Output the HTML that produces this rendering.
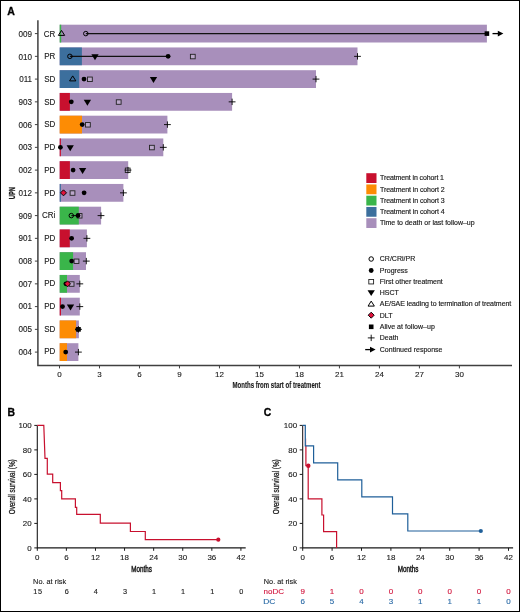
<!DOCTYPE html>
<html><head><meta charset="utf-8"><style>
html,body{margin:0;padding:0;background:#fff;}
svg{display:block;font-family:"Liberation Sans", sans-serif;will-change:transform;}
</style></head><body>
<svg width="520" height="612" viewBox="0 0 520 612">
<rect x="0.5" y="0.5" width="519" height="611" fill="#fff" stroke="#000" stroke-width="1"/>
<text x="7.3" y="14.5" font-size="10.5" fill="#000" font-weight="bold" stroke="#000" stroke-width="0.3">A</text>
<path d="M37.9 20.3V365.5H512" fill="none" stroke="#404040" stroke-width="1.5"/>
<text transform="translate(14.6,193.1) rotate(-90)" font-size="8.6" fill="#1a1a1a" text-anchor="middle" font-weight="bold" stroke="#1a1a1a" stroke-width="0.3" textLength="12.2" lengthAdjust="spacingAndGlyphs">UPN</text>
<rect x="59.7" y="24.7" width="427.2" height="17.8" fill="#a88fbb"/>
<rect x="59.7" y="24.7" width="1.5" height="17.8" fill="#3ab54a"/>
<path d="M34.9 33.6H38" stroke="#404040" stroke-width="1"/>
<text x="32.1" y="36.9" font-size="8.7" fill="#1a1a1a" text-anchor="end" stroke="#1a1a1a" stroke-width="0.12" textLength="13.5" lengthAdjust="spacingAndGlyphs">009</text>
<text x="55.4" y="36.75" font-size="8.8" fill="#1a1a1a" text-anchor="end" stroke="#1a1a1a" stroke-width="0.12" textLength="11.57" lengthAdjust="spacingAndGlyphs">CR</text>
<path d="M85.8 33.6H486.9" stroke="#111" stroke-width="1.1"/>
<path d="M61.5 30.4L64.65 35.4L58.35 35.4Z" fill="none" stroke="#000" stroke-width="1"/>
<circle cx="85.8" cy="33.6" r="2.25" fill="none" stroke="#000" stroke-width="1"/>
<rect x="484.6" y="31.3" width="4.6" height="4.6" fill="#000"/>
<path d="M492.5 33.6H499.4" stroke="#000" stroke-width="1.3"/>
<path d="M497.8 30.7L503.4 33.6L497.8 36.5Z" fill="#000"/>
<rect x="59.7" y="47.45" width="297.8" height="17.8" fill="#a88fbb"/>
<rect x="59.7" y="47.45" width="22.2" height="17.8" fill="#3c6f9d"/>
<path d="M34.9 56.35H38" stroke="#404040" stroke-width="1"/>
<text x="32.1" y="59.61" font-size="8.7" fill="#1a1a1a" text-anchor="end" stroke="#1a1a1a" stroke-width="0.12" textLength="13.5" lengthAdjust="spacingAndGlyphs">010</text>
<text x="55.4" y="59.43" font-size="8.8" fill="#1a1a1a" text-anchor="end" stroke="#1a1a1a" stroke-width="0.12" textLength="11.12" lengthAdjust="spacingAndGlyphs">PR</text>
<path d="M69.9 56.35H168.1" stroke="#111" stroke-width="1.1"/>
<circle cx="69.9" cy="56.35" r="2.25" fill="none" stroke="#000" stroke-width="1"/>
<path d="M91.35 54.35L98.65 54.35L95.0 60.25Z" fill="#000"/>
<circle cx="168.1" cy="56.35" r="2.4" fill="#000"/>
<rect x="190.4" y="54.3" width="4.8" height="4.5" fill="#fff" fill-opacity="0.22" stroke="#222" stroke-width="0.9"/>
<path d="M354.1 56.35H360.9M357.5 53.15V59.55" stroke="#000" stroke-width="0.9"/>
<rect x="59.7" y="70.2" width="256.3" height="17.8" fill="#a88fbb"/>
<rect x="59.7" y="70.2" width="19.5" height="17.8" fill="#3c6f9d"/>
<path d="M34.9 79.1H38" stroke="#404040" stroke-width="1"/>
<text x="32.1" y="82.32" font-size="8.7" fill="#1a1a1a" text-anchor="end" stroke="#1a1a1a" stroke-width="0.12" textLength="12.9" lengthAdjust="spacingAndGlyphs">011</text>
<text x="55.4" y="82.11" font-size="8.8" fill="#1a1a1a" text-anchor="end" stroke="#1a1a1a" stroke-width="0.12" textLength="11.12" lengthAdjust="spacingAndGlyphs">SD</text>
<path d="M72.7 75.9L75.85 80.9L69.55 80.9Z" fill="none" stroke="#000" stroke-width="1"/>
<circle cx="84.0" cy="79.1" r="2.4" fill="#000"/>
<rect x="87.5" y="77.05" width="4.8" height="4.5" fill="#fff" fill-opacity="0.22" stroke="#222" stroke-width="0.9"/>
<path d="M149.85 77.1L157.15 77.1L153.5 83.0Z" fill="#000"/>
<path d="M312.6 79.1H319.4M316.0 75.9V82.3" stroke="#000" stroke-width="0.9"/>
<rect x="59.7" y="92.95" width="172.4" height="17.8" fill="#a88fbb"/>
<rect x="59.7" y="92.95" width="10.2" height="17.8" fill="#c8102e"/>
<path d="M34.9 101.85H38" stroke="#404040" stroke-width="1"/>
<text x="32.1" y="105.03" font-size="8.7" fill="#1a1a1a" text-anchor="end" stroke="#1a1a1a" stroke-width="0.12" textLength="13.5" lengthAdjust="spacingAndGlyphs">903</text>
<text x="55.4" y="104.79" font-size="8.8" fill="#1a1a1a" text-anchor="end" stroke="#1a1a1a" stroke-width="0.12" textLength="11.12" lengthAdjust="spacingAndGlyphs">SD</text>
<circle cx="71.3" cy="101.85" r="2.4" fill="#000"/>
<path d="M83.75 99.85L91.05 99.85L87.4 105.75Z" fill="#000"/>
<rect x="116.3" y="99.8" width="4.8" height="4.5" fill="#fff" fill-opacity="0.22" stroke="#222" stroke-width="0.9"/>
<path d="M228.7 101.85H235.5M232.1 98.65V105.05" stroke="#000" stroke-width="0.9"/>
<rect x="59.7" y="115.7" width="107.7" height="17.8" fill="#a88fbb"/>
<rect x="59.7" y="115.7" width="22.3" height="17.8" fill="#fd8c04"/>
<path d="M34.9 124.6H38" stroke="#404040" stroke-width="1"/>
<text x="32.1" y="127.74" font-size="8.7" fill="#1a1a1a" text-anchor="end" stroke="#1a1a1a" stroke-width="0.12" textLength="13.5" lengthAdjust="spacingAndGlyphs">006</text>
<text x="55.4" y="127.47" font-size="8.8" fill="#1a1a1a" text-anchor="end" stroke="#1a1a1a" stroke-width="0.12" textLength="11.12" lengthAdjust="spacingAndGlyphs">SD</text>
<circle cx="82.2" cy="124.6" r="2.4" fill="#000"/>
<rect x="85.5" y="122.55" width="4.8" height="4.5" fill="#fff" fill-opacity="0.22" stroke="#222" stroke-width="0.9"/>
<path d="M164.0 124.6H170.8M167.4 121.4V127.8" stroke="#000" stroke-width="0.9"/>
<rect x="59.7" y="138.45" width="103.6" height="17.8" fill="#a88fbb"/>
<rect x="59.7" y="138.45" width="1.2" height="17.8" fill="#c8102e"/>
<path d="M34.9 147.35H38" stroke="#404040" stroke-width="1"/>
<text x="32.1" y="150.45" font-size="8.7" fill="#1a1a1a" text-anchor="end" stroke="#1a1a1a" stroke-width="0.12" textLength="13.5" lengthAdjust="spacingAndGlyphs">003</text>
<text x="55.4" y="150.15" font-size="8.8" fill="#1a1a1a" text-anchor="end" stroke="#1a1a1a" stroke-width="0.12" textLength="11.12" lengthAdjust="spacingAndGlyphs">PD</text>
<circle cx="60.4" cy="147.35" r="2.4" fill="#000"/>
<path d="M66.55 145.35L73.85 145.35L70.2 151.25Z" fill="#000"/>
<rect x="149.5" y="145.3" width="4.8" height="4.5" fill="#fff" fill-opacity="0.22" stroke="#222" stroke-width="0.9"/>
<path d="M159.9 147.35H166.7M163.3 144.15V150.55" stroke="#000" stroke-width="0.9"/>
<rect x="59.7" y="161.2" width="68.5" height="17.8" fill="#a88fbb"/>
<rect x="59.7" y="161.2" width="10.2" height="17.8" fill="#c8102e"/>
<path d="M34.9 170.1H38" stroke="#404040" stroke-width="1"/>
<text x="32.1" y="173.16" font-size="8.7" fill="#1a1a1a" text-anchor="end" stroke="#1a1a1a" stroke-width="0.12" textLength="13.5" lengthAdjust="spacingAndGlyphs">002</text>
<text x="55.4" y="172.83" font-size="8.8" fill="#1a1a1a" text-anchor="end" stroke="#1a1a1a" stroke-width="0.12" textLength="11.12" lengthAdjust="spacingAndGlyphs">PD</text>
<circle cx="73.1" cy="170.1" r="2.4" fill="#000"/>
<path d="M78.95 168.1L86.25 168.1L82.6 174.0Z" fill="#000"/>
<rect x="125.3" y="168.05" width="4.8" height="4.5" fill="#fff" fill-opacity="0.22" stroke="#222" stroke-width="0.9"/>
<path d="M124.6 170.1H131.4M128.0 166.9V173.3" stroke="#000" stroke-width="0.9"/>
<rect x="59.7" y="183.95" width="63.7" height="17.8" fill="#a88fbb"/>
<rect x="59.7" y="183.95" width="1.2" height="17.8" fill="#3c6f9d"/>
<path d="M34.9 192.85H38" stroke="#404040" stroke-width="1"/>
<text x="32.1" y="195.87" font-size="8.7" fill="#1a1a1a" text-anchor="end" stroke="#1a1a1a" stroke-width="0.12" textLength="13.5" lengthAdjust="spacingAndGlyphs">012</text>
<text x="55.4" y="195.51" font-size="8.8" fill="#1a1a1a" text-anchor="end" stroke="#1a1a1a" stroke-width="0.12" textLength="11.12" lengthAdjust="spacingAndGlyphs">PD</text>
<path d="M63.5 189.85L66.5 192.85L63.5 195.85L60.5 192.85Z" fill="#e0123c" stroke="#000" stroke-width="0.95"/>
<rect x="70.1" y="190.8" width="4.8" height="4.5" fill="#fff" fill-opacity="0.22" stroke="#222" stroke-width="0.9"/>
<circle cx="84.1" cy="192.85" r="2.4" fill="#000"/>
<path d="M120.0 192.85H126.8M123.4 189.65V196.05" stroke="#000" stroke-width="0.9"/>
<rect x="59.7" y="206.7" width="41.4" height="17.8" fill="#a88fbb"/>
<rect x="59.7" y="206.7" width="19.1" height="17.8" fill="#3ab54a"/>
<path d="M34.9 215.6H38" stroke="#404040" stroke-width="1"/>
<text x="32.1" y="218.58" font-size="8.7" fill="#1a1a1a" text-anchor="end" stroke="#1a1a1a" stroke-width="0.12" textLength="13.5" lengthAdjust="spacingAndGlyphs">909</text>
<text x="55.4" y="218.19" font-size="8.8" fill="#1a1a1a" text-anchor="end" stroke="#1a1a1a" stroke-width="0.12" textLength="13.35" lengthAdjust="spacingAndGlyphs">CRi</text>
<path d="M71.3 215.6H78.0" stroke="#111" stroke-width="1.1"/>
<circle cx="71.3" cy="215.6" r="2.25" fill="none" stroke="#000" stroke-width="1"/>
<rect x="77.2" y="213.55" width="4.8" height="4.5" fill="#fff" fill-opacity="0.22" stroke="#222" stroke-width="0.9"/>
<circle cx="78.0" cy="215.6" r="2.4" fill="#000"/>
<path d="M97.6 215.6H104.4M101.0 212.4V218.8" stroke="#000" stroke-width="0.9"/>
<rect x="59.7" y="229.45" width="27.2" height="17.8" fill="#a88fbb"/>
<rect x="59.7" y="229.45" width="10.1" height="17.8" fill="#c8102e"/>
<path d="M34.9 238.35H38" stroke="#404040" stroke-width="1"/>
<text x="32.1" y="241.29" font-size="8.7" fill="#1a1a1a" text-anchor="end" stroke="#1a1a1a" stroke-width="0.12" textLength="13.5" lengthAdjust="spacingAndGlyphs">901</text>
<text x="55.4" y="240.87" font-size="8.8" fill="#1a1a1a" text-anchor="end" stroke="#1a1a1a" stroke-width="0.12" textLength="11.12" lengthAdjust="spacingAndGlyphs">PD</text>
<circle cx="71.6" cy="238.35" r="2.4" fill="#000"/>
<path d="M83.5 238.35H90.3M86.9 235.15V241.55" stroke="#000" stroke-width="0.9"/>
<rect x="59.7" y="252.2" width="26.3" height="17.8" fill="#a88fbb"/>
<rect x="59.7" y="252.2" width="13.4" height="17.8" fill="#3ab54a"/>
<path d="M34.9 261.1H38" stroke="#404040" stroke-width="1"/>
<text x="32.1" y="264.0" font-size="8.7" fill="#1a1a1a" text-anchor="end" stroke="#1a1a1a" stroke-width="0.12" textLength="13.5" lengthAdjust="spacingAndGlyphs">008</text>
<text x="55.4" y="263.55" font-size="8.8" fill="#1a1a1a" text-anchor="end" stroke="#1a1a1a" stroke-width="0.12" textLength="11.12" lengthAdjust="spacingAndGlyphs">PD</text>
<circle cx="71.7" cy="261.1" r="2.4" fill="#000"/>
<rect x="74.1" y="259.05" width="4.8" height="4.5" fill="#fff" fill-opacity="0.22" stroke="#222" stroke-width="0.9"/>
<path d="M82.9 261.1H89.7M86.3 257.9V264.3" stroke="#000" stroke-width="0.9"/>
<rect x="59.7" y="274.95" width="20.1" height="17.8" fill="#a88fbb"/>
<rect x="59.7" y="274.95" width="7.3" height="17.8" fill="#3ab54a"/>
<path d="M34.9 283.85H38" stroke="#404040" stroke-width="1"/>
<text x="32.1" y="286.71" font-size="8.7" fill="#1a1a1a" text-anchor="end" stroke="#1a1a1a" stroke-width="0.12" textLength="13.5" lengthAdjust="spacingAndGlyphs">007</text>
<text x="55.4" y="286.23" font-size="8.8" fill="#1a1a1a" text-anchor="end" stroke="#1a1a1a" stroke-width="0.12" textLength="11.12" lengthAdjust="spacingAndGlyphs">PD</text>
<circle cx="65.9" cy="283.85" r="2.4" fill="#000"/>
<rect x="69.2" y="281.8" width="4.8" height="4.5" fill="#fff" fill-opacity="0.22" stroke="#222" stroke-width="0.9"/>
<path d="M67.5 280.85L70.5 283.85L67.5 286.85L64.5 283.85Z" fill="#e0123c" stroke="#000" stroke-width="0.95"/>
<path d="M76.4 283.85H83.2M79.8 280.65V287.05" stroke="#000" stroke-width="0.9"/>
<rect x="59.7" y="297.7" width="20.1" height="17.8" fill="#a88fbb"/>
<rect x="59.7" y="297.7" width="1.3" height="17.8" fill="#c8102e"/>
<path d="M34.9 306.6H38" stroke="#404040" stroke-width="1"/>
<text x="32.1" y="309.42" font-size="8.7" fill="#1a1a1a" text-anchor="end" stroke="#1a1a1a" stroke-width="0.12" textLength="13.5" lengthAdjust="spacingAndGlyphs">001</text>
<text x="55.4" y="308.91" font-size="8.8" fill="#1a1a1a" text-anchor="end" stroke="#1a1a1a" stroke-width="0.12" textLength="11.12" lengthAdjust="spacingAndGlyphs">PD</text>
<circle cx="62.5" cy="306.6" r="2.4" fill="#000"/>
<path d="M66.85 304.6L74.15 304.6L70.5 310.5Z" fill="#000"/>
<path d="M76.4 306.6H83.2M79.8 303.4V309.8" stroke="#000" stroke-width="0.9"/>
<rect x="59.7" y="320.45" width="19.2" height="17.8" fill="#a88fbb"/>
<rect x="59.7" y="320.45" width="16.4" height="17.8" fill="#fd8c04"/>
<path d="M34.9 329.35H38" stroke="#404040" stroke-width="1"/>
<text x="32.1" y="332.13" font-size="8.7" fill="#1a1a1a" text-anchor="end" stroke="#1a1a1a" stroke-width="0.12" textLength="13.5" lengthAdjust="spacingAndGlyphs">005</text>
<text x="55.4" y="331.59" font-size="8.8" fill="#1a1a1a" text-anchor="end" stroke="#1a1a1a" stroke-width="0.12" textLength="11.12" lengthAdjust="spacingAndGlyphs">SD</text>
<circle cx="77.7" cy="329.35" r="2.4" fill="#000"/>
<rect x="76.2" y="327.05" width="4.6" height="4.6" fill="#000"/>
<path d="M75.1 329.35H81.9M78.5 326.15V332.55" stroke="#000" stroke-width="0.9"/>
<rect x="59.7" y="343.2" width="18.7" height="17.8" fill="#a88fbb"/>
<rect x="59.7" y="343.2" width="7.3" height="17.8" fill="#fd8c04"/>
<path d="M34.9 352.1H38" stroke="#404040" stroke-width="1"/>
<text x="32.1" y="354.84" font-size="8.7" fill="#1a1a1a" text-anchor="end" stroke="#1a1a1a" stroke-width="0.12" textLength="13.5" lengthAdjust="spacingAndGlyphs">004</text>
<text x="55.4" y="354.27" font-size="8.8" fill="#1a1a1a" text-anchor="end" stroke="#1a1a1a" stroke-width="0.12" textLength="11.12" lengthAdjust="spacingAndGlyphs">PD</text>
<circle cx="65.7" cy="352.1" r="2.4" fill="#000"/>
<path d="M75.0 352.1H81.8M78.4 348.9V355.3" stroke="#000" stroke-width="0.9"/>
<path d="M59.5 365.5V368.4" stroke="#404040" stroke-width="1"/>
<text x="59.5" y="377.1" font-size="8.0" fill="#1a1a1a" text-anchor="middle" stroke="#1a1a1a" stroke-width="0.12" textLength="4.45" lengthAdjust="spacingAndGlyphs">0</text>
<path d="M99.49 365.5V368.4" stroke="#404040" stroke-width="1"/>
<text x="99.49" y="377.1" font-size="8.0" fill="#1a1a1a" text-anchor="middle" stroke="#1a1a1a" stroke-width="0.12" textLength="4.45" lengthAdjust="spacingAndGlyphs">3</text>
<path d="M139.48 365.5V368.4" stroke="#404040" stroke-width="1"/>
<text x="139.48" y="377.1" font-size="8.0" fill="#1a1a1a" text-anchor="middle" stroke="#1a1a1a" stroke-width="0.12" textLength="4.45" lengthAdjust="spacingAndGlyphs">6</text>
<path d="M179.47 365.5V368.4" stroke="#404040" stroke-width="1"/>
<text x="179.47" y="377.1" font-size="8.0" fill="#1a1a1a" text-anchor="middle" stroke="#1a1a1a" stroke-width="0.12" textLength="4.45" lengthAdjust="spacingAndGlyphs">9</text>
<path d="M219.46 365.5V368.4" stroke="#404040" stroke-width="1"/>
<text x="219.46" y="377.1" font-size="8.0" fill="#1a1a1a" text-anchor="middle" stroke="#1a1a1a" stroke-width="0.12" textLength="8.9" lengthAdjust="spacingAndGlyphs">12</text>
<path d="M259.45 365.5V368.4" stroke="#404040" stroke-width="1"/>
<text x="259.45" y="377.1" font-size="8.0" fill="#1a1a1a" text-anchor="middle" stroke="#1a1a1a" stroke-width="0.12" textLength="8.9" lengthAdjust="spacingAndGlyphs">15</text>
<path d="M299.44 365.5V368.4" stroke="#404040" stroke-width="1"/>
<text x="299.44" y="377.1" font-size="8.0" fill="#1a1a1a" text-anchor="middle" stroke="#1a1a1a" stroke-width="0.12" textLength="8.9" lengthAdjust="spacingAndGlyphs">18</text>
<path d="M339.43 365.5V368.4" stroke="#404040" stroke-width="1"/>
<text x="339.43" y="377.1" font-size="8.0" fill="#1a1a1a" text-anchor="middle" stroke="#1a1a1a" stroke-width="0.12" textLength="8.9" lengthAdjust="spacingAndGlyphs">21</text>
<path d="M379.42 365.5V368.4" stroke="#404040" stroke-width="1"/>
<text x="379.42" y="377.1" font-size="8.0" fill="#1a1a1a" text-anchor="middle" stroke="#1a1a1a" stroke-width="0.12" textLength="8.9" lengthAdjust="spacingAndGlyphs">24</text>
<path d="M419.41 365.5V368.4" stroke="#404040" stroke-width="1"/>
<text x="419.41" y="377.1" font-size="8.0" fill="#1a1a1a" text-anchor="middle" stroke="#1a1a1a" stroke-width="0.12" textLength="8.9" lengthAdjust="spacingAndGlyphs">27</text>
<path d="M459.4 365.5V368.4" stroke="#404040" stroke-width="1"/>
<text x="459.4" y="377.1" font-size="8.0" fill="#1a1a1a" text-anchor="middle" stroke="#1a1a1a" stroke-width="0.12" textLength="8.9" lengthAdjust="spacingAndGlyphs">30</text>
<text transform="translate(276.5,387.8)" font-size="9.3" fill="#1a1a1a" text-anchor="middle" font-weight="bold" stroke="#1a1a1a" stroke-width="0.15" textLength="88.0" lengthAdjust="spacingAndGlyphs">Months from start of treatment</text>
<rect x="366.3" y="173.2" width="10.2" height="9.8" fill="#c8102e"/>
<text x="380.0" y="180.4" font-size="7.0" fill="#1a1a1a" stroke="#1a1a1a" stroke-width="0.15" textLength="64.0" lengthAdjust="spacing">Treatment in cohort 1</text>
<rect x="366.3" y="184.45" width="10.2" height="9.8" fill="#fd8c04"/>
<text x="380.0" y="191.65" font-size="7.0" fill="#1a1a1a" stroke="#1a1a1a" stroke-width="0.15" textLength="64.6" lengthAdjust="spacing">Treatment in cohort 2</text>
<rect x="366.3" y="195.7" width="10.2" height="9.8" fill="#3ab54a"/>
<text x="380.0" y="202.9" font-size="7.0" fill="#1a1a1a" stroke="#1a1a1a" stroke-width="0.15" textLength="64.6" lengthAdjust="spacing">Treatment in cohort 3</text>
<rect x="366.3" y="206.95" width="10.2" height="9.8" fill="#3c6f9d"/>
<text x="380.0" y="214.15" font-size="7.0" fill="#1a1a1a" stroke="#1a1a1a" stroke-width="0.15" textLength="64.6" lengthAdjust="spacing">Treatment in cohort 4</text>
<rect x="366.3" y="218.2" width="10.2" height="9.8" fill="#a88fbb"/>
<text x="380.0" y="225.4" font-size="7.0" fill="#1a1a1a" stroke="#1a1a1a" stroke-width="0.15" textLength="94.6" lengthAdjust="spacing">Time to death or last follow–up</text>
<circle cx="371.2" cy="259" r="2.25" fill="none" stroke="#000" stroke-width="1"/>
<text x="379.8" y="261.35" font-size="7.0" fill="#1a1a1a" stroke="#1a1a1a" stroke-width="0.15">CR/CRi/PR</text>
<circle cx="371.2" cy="270.5" r="2.4" fill="#000"/>
<text x="379.8" y="272.85" font-size="7.0" fill="#1a1a1a" stroke="#1a1a1a" stroke-width="0.15">Progress</text>
<rect x="368.8" y="279.45" width="4.8" height="4.5" fill="#fff" fill-opacity="0.22" stroke="#222" stroke-width="0.9"/>
<text x="379.8" y="283.85" font-size="7.0" fill="#1a1a1a" stroke="#1a1a1a" stroke-width="0.15">First other treatment</text>
<path d="M367.55 290.15L374.85 290.15L371.2 296.05Z" fill="#000"/>
<text x="379.8" y="295.45" font-size="7.0" fill="#1a1a1a" stroke="#1a1a1a" stroke-width="0.15">HSCT</text>
<path d="M371.2 301.1L374.35 306.1L368.05 306.1Z" fill="none" stroke="#000" stroke-width="1"/>
<text x="379.8" y="305.95" font-size="7.0" fill="#1a1a1a" stroke="#1a1a1a" stroke-width="0.15" textLength="131.5" lengthAdjust="spacing">AE/SAE leading to termination of treatment</text>
<path d="M371.2 312.2L374.2 315.2L371.2 318.2L368.2 315.2Z" fill="#e0123c" stroke="#000" stroke-width="0.95"/>
<text x="379.8" y="317.55" font-size="7.0" fill="#1a1a1a" stroke="#1a1a1a" stroke-width="0.15">DLT</text>
<rect x="368.9" y="324.5" width="4.6" height="4.6" fill="#000"/>
<text x="379.8" y="329.15" font-size="7.0" fill="#1a1a1a" stroke="#1a1a1a" stroke-width="0.15" textLength="55.0" lengthAdjust="spacing">Alive at follow–up</text>
<path d="M367.8 337.9H374.6M371.2 334.7V341.1" stroke="#000" stroke-width="0.9"/>
<text x="379.8" y="340.25" font-size="7.0" fill="#1a1a1a" stroke="#1a1a1a" stroke-width="0.15">Death</text>
<path d="M365.2 349.6H371" stroke="#000" stroke-width="1.3"/>
<path d="M370 346.7L375.6 349.6L370 352.5Z" fill="#000"/>
<text x="379.8" y="351.95" font-size="7.0" fill="#1a1a1a" stroke="#1a1a1a" stroke-width="0.15">Continued response</text>
<text x="7.4" y="415.7" font-size="10.4" fill="#000" font-weight="bold" stroke="#000" stroke-width="0.3">B</text>
<path d="M37.3 425.4V547.9H245.7" fill="none" stroke="#1a1a1a" stroke-width="1.1"/>
<path d="M34.3 547.9H37.3" stroke="#1a1a1a" stroke-width="1"/>
<text x="31.7" y="550.6" font-size="7.8" fill="#1a1a1a" text-anchor="end" stroke="#1a1a1a" stroke-width="0.12" textLength="4.42" lengthAdjust="spacingAndGlyphs">0</text>
<path d="M34.3 523.4H37.3" stroke="#1a1a1a" stroke-width="1"/>
<text x="31.7" y="526.1" font-size="7.8" fill="#1a1a1a" text-anchor="end" stroke="#1a1a1a" stroke-width="0.12" textLength="8.85" lengthAdjust="spacingAndGlyphs">20</text>
<path d="M34.3 498.9H37.3" stroke="#1a1a1a" stroke-width="1"/>
<text x="31.7" y="501.6" font-size="7.8" fill="#1a1a1a" text-anchor="end" stroke="#1a1a1a" stroke-width="0.12" textLength="8.85" lengthAdjust="spacingAndGlyphs">40</text>
<path d="M34.3 474.4H37.3" stroke="#1a1a1a" stroke-width="1"/>
<text x="31.7" y="477.1" font-size="7.8" fill="#1a1a1a" text-anchor="end" stroke="#1a1a1a" stroke-width="0.12" textLength="8.85" lengthAdjust="spacingAndGlyphs">60</text>
<path d="M34.3 449.9H37.3" stroke="#1a1a1a" stroke-width="1"/>
<text x="31.7" y="452.6" font-size="7.8" fill="#1a1a1a" text-anchor="end" stroke="#1a1a1a" stroke-width="0.12" textLength="8.85" lengthAdjust="spacingAndGlyphs">80</text>
<path d="M34.3 425.4H37.3" stroke="#1a1a1a" stroke-width="1"/>
<text x="31.7" y="428.1" font-size="7.8" fill="#1a1a1a" text-anchor="end" stroke="#1a1a1a" stroke-width="0.12" textLength="13.27" lengthAdjust="spacingAndGlyphs">100</text>
<path d="M37.3 547.9V550.8" stroke="#1a1a1a" stroke-width="1"/>
<text x="37.3" y="559.8" font-size="7.8" fill="#1a1a1a" text-anchor="middle" stroke="#1a1a1a" stroke-width="0.12" textLength="4.42" lengthAdjust="spacingAndGlyphs">0</text>
<path d="M66.39 547.9V550.8" stroke="#1a1a1a" stroke-width="1"/>
<text x="66.39" y="559.8" font-size="7.8" fill="#1a1a1a" text-anchor="middle" stroke="#1a1a1a" stroke-width="0.12" textLength="4.42" lengthAdjust="spacingAndGlyphs">6</text>
<path d="M95.48 547.9V550.8" stroke="#1a1a1a" stroke-width="1"/>
<text x="95.48" y="559.8" font-size="7.8" fill="#1a1a1a" text-anchor="middle" stroke="#1a1a1a" stroke-width="0.12" textLength="8.85" lengthAdjust="spacingAndGlyphs">12</text>
<path d="M124.56 547.9V550.8" stroke="#1a1a1a" stroke-width="1"/>
<text x="124.56" y="559.8" font-size="7.8" fill="#1a1a1a" text-anchor="middle" stroke="#1a1a1a" stroke-width="0.12" textLength="8.85" lengthAdjust="spacingAndGlyphs">18</text>
<path d="M153.65 547.9V550.8" stroke="#1a1a1a" stroke-width="1"/>
<text x="153.65" y="559.8" font-size="7.8" fill="#1a1a1a" text-anchor="middle" stroke="#1a1a1a" stroke-width="0.12" textLength="8.85" lengthAdjust="spacingAndGlyphs">24</text>
<path d="M182.74 547.9V550.8" stroke="#1a1a1a" stroke-width="1"/>
<text x="182.74" y="559.8" font-size="7.8" fill="#1a1a1a" text-anchor="middle" stroke="#1a1a1a" stroke-width="0.12" textLength="8.85" lengthAdjust="spacingAndGlyphs">30</text>
<path d="M211.83 547.9V550.8" stroke="#1a1a1a" stroke-width="1"/>
<text x="211.83" y="559.8" font-size="7.8" fill="#1a1a1a" text-anchor="middle" stroke="#1a1a1a" stroke-width="0.12" textLength="8.85" lengthAdjust="spacingAndGlyphs">36</text>
<path d="M240.92 547.9V550.8" stroke="#1a1a1a" stroke-width="1"/>
<text x="240.92" y="559.8" font-size="7.8" fill="#1a1a1a" text-anchor="middle" stroke="#1a1a1a" stroke-width="0.12" textLength="8.85" lengthAdjust="spacingAndGlyphs">42</text>
<text transform="translate(141.53,571.9)" font-size="9.3" fill="#1a1a1a" text-anchor="middle" stroke="#1a1a1a" stroke-width="0.5" textLength="20.6" lengthAdjust="spacingAndGlyphs">Months</text>
<text transform="translate(15.4,486.8) rotate(-90)" font-size="9.6" fill="#1a1a1a" text-anchor="middle" stroke="#1a1a1a" stroke-width="0.3" textLength="55.0" lengthAdjust="spacingAndGlyphs">Overall survival (%)</text>
<path d="M37.3 425.4 L43.8 425.4 L45.0 458.3 L47.3 458.3 L47.3 474.2 L52.7 474.2 L52.7 482.7 L60.4 482.7 L60.4 490.6 L61.7 490.6 L61.7 498.8 L75.4 498.8 L75.4 507.3 L76.7 507.3 L76.7 514.4 L100.3 514.4 L100.3 523.1 L130.4 523.1 L130.4 531.5 L145.3 531.5 L145.3 539.7 L218.3 539.7" fill="none" stroke="#c8102e" stroke-width="1.2"/>
<circle cx="218.3" cy="539.7" r="2.1" fill="#c8102e"/>
<text x="33.1" y="584.1" font-size="7.3" fill="#1a1a1a" stroke="#1a1a1a" stroke-width="0.12" textLength="33.0" lengthAdjust="spacing">No. at risk</text>
<text x="37.7" y="594.2" font-size="7.3" fill="#1a1a1a" text-anchor="middle" stroke="#1a1a1a" stroke-width="0.12" textLength="8.8" lengthAdjust="spacing">15</text>
<text x="66.79" y="594.2" font-size="7.3" fill="#1a1a1a" text-anchor="middle" stroke="#1a1a1a" stroke-width="0.12">6</text>
<text x="95.88" y="594.2" font-size="7.3" fill="#1a1a1a" text-anchor="middle" stroke="#1a1a1a" stroke-width="0.12">4</text>
<text x="124.96" y="594.2" font-size="7.3" fill="#1a1a1a" text-anchor="middle" stroke="#1a1a1a" stroke-width="0.12">3</text>
<text x="154.05" y="594.2" font-size="7.3" fill="#1a1a1a" text-anchor="middle" stroke="#1a1a1a" stroke-width="0.12">1</text>
<text x="183.14" y="594.2" font-size="7.3" fill="#1a1a1a" text-anchor="middle" stroke="#1a1a1a" stroke-width="0.12">1</text>
<text x="212.23" y="594.2" font-size="7.3" fill="#1a1a1a" text-anchor="middle" stroke="#1a1a1a" stroke-width="0.12">1</text>
<text x="241.32" y="594.2" font-size="7.3" fill="#1a1a1a" text-anchor="middle" stroke="#1a1a1a" stroke-width="0.12">0</text>
<text x="263.7" y="415.7" font-size="10.4" fill="#000" font-weight="bold" stroke="#000" stroke-width="0.3">C</text>
<path d="M302.7 425.4V547.9H513.1" fill="none" stroke="#1a1a1a" stroke-width="1.1"/>
<path d="M299.7 547.9H302.7" stroke="#1a1a1a" stroke-width="1"/>
<text x="297.1" y="550.6" font-size="7.8" fill="#1a1a1a" text-anchor="end" stroke="#1a1a1a" stroke-width="0.12" textLength="4.42" lengthAdjust="spacingAndGlyphs">0</text>
<path d="M299.7 523.4H302.7" stroke="#1a1a1a" stroke-width="1"/>
<text x="297.1" y="526.1" font-size="7.8" fill="#1a1a1a" text-anchor="end" stroke="#1a1a1a" stroke-width="0.12" textLength="8.85" lengthAdjust="spacingAndGlyphs">20</text>
<path d="M299.7 498.9H302.7" stroke="#1a1a1a" stroke-width="1"/>
<text x="297.1" y="501.6" font-size="7.8" fill="#1a1a1a" text-anchor="end" stroke="#1a1a1a" stroke-width="0.12" textLength="8.85" lengthAdjust="spacingAndGlyphs">40</text>
<path d="M299.7 474.4H302.7" stroke="#1a1a1a" stroke-width="1"/>
<text x="297.1" y="477.1" font-size="7.8" fill="#1a1a1a" text-anchor="end" stroke="#1a1a1a" stroke-width="0.12" textLength="8.85" lengthAdjust="spacingAndGlyphs">60</text>
<path d="M299.7 449.9H302.7" stroke="#1a1a1a" stroke-width="1"/>
<text x="297.1" y="452.6" font-size="7.8" fill="#1a1a1a" text-anchor="end" stroke="#1a1a1a" stroke-width="0.12" textLength="8.85" lengthAdjust="spacingAndGlyphs">80</text>
<path d="M299.7 425.4H302.7" stroke="#1a1a1a" stroke-width="1"/>
<text x="297.1" y="428.1" font-size="7.8" fill="#1a1a1a" text-anchor="end" stroke="#1a1a1a" stroke-width="0.12" textLength="13.27" lengthAdjust="spacingAndGlyphs">100</text>
<path d="M302.7 547.9V550.8" stroke="#1a1a1a" stroke-width="1"/>
<text x="302.7" y="559.8" font-size="7.8" fill="#1a1a1a" text-anchor="middle" stroke="#1a1a1a" stroke-width="0.12" textLength="4.42" lengthAdjust="spacingAndGlyphs">0</text>
<path d="M332.1 547.9V550.8" stroke="#1a1a1a" stroke-width="1"/>
<text x="332.1" y="559.8" font-size="7.8" fill="#1a1a1a" text-anchor="middle" stroke="#1a1a1a" stroke-width="0.12" textLength="4.42" lengthAdjust="spacingAndGlyphs">6</text>
<path d="M361.5 547.9V550.8" stroke="#1a1a1a" stroke-width="1"/>
<text x="361.5" y="559.8" font-size="7.8" fill="#1a1a1a" text-anchor="middle" stroke="#1a1a1a" stroke-width="0.12" textLength="8.85" lengthAdjust="spacingAndGlyphs">12</text>
<path d="M390.9 547.9V550.8" stroke="#1a1a1a" stroke-width="1"/>
<text x="390.9" y="559.8" font-size="7.8" fill="#1a1a1a" text-anchor="middle" stroke="#1a1a1a" stroke-width="0.12" textLength="8.85" lengthAdjust="spacingAndGlyphs">18</text>
<path d="M420.3 547.9V550.8" stroke="#1a1a1a" stroke-width="1"/>
<text x="420.3" y="559.8" font-size="7.8" fill="#1a1a1a" text-anchor="middle" stroke="#1a1a1a" stroke-width="0.12" textLength="8.85" lengthAdjust="spacingAndGlyphs">24</text>
<path d="M449.7 547.9V550.8" stroke="#1a1a1a" stroke-width="1"/>
<text x="449.7" y="559.8" font-size="7.8" fill="#1a1a1a" text-anchor="middle" stroke="#1a1a1a" stroke-width="0.12" textLength="8.85" lengthAdjust="spacingAndGlyphs">30</text>
<path d="M479.1 547.9V550.8" stroke="#1a1a1a" stroke-width="1"/>
<text x="479.1" y="559.8" font-size="7.8" fill="#1a1a1a" text-anchor="middle" stroke="#1a1a1a" stroke-width="0.12" textLength="8.85" lengthAdjust="spacingAndGlyphs">36</text>
<path d="M508.5 547.9V550.8" stroke="#1a1a1a" stroke-width="1"/>
<text x="508.5" y="559.8" font-size="7.8" fill="#1a1a1a" text-anchor="middle" stroke="#1a1a1a" stroke-width="0.12" textLength="8.85" lengthAdjust="spacingAndGlyphs">42</text>
<text transform="translate(408.05,571.9)" font-size="9.3" fill="#1a1a1a" text-anchor="middle" stroke="#1a1a1a" stroke-width="0.5" textLength="20.6" lengthAdjust="spacingAndGlyphs">Months</text>
<text transform="translate(279.1,486.8) rotate(-90)" font-size="9.6" fill="#1a1a1a" text-anchor="middle" stroke="#1a1a1a" stroke-width="0.3" textLength="55.0" lengthAdjust="spacingAndGlyphs">Overall survival (%)</text>
<path d="M303.7 425.4V446" fill="none" stroke="#e3cdd1" stroke-width="1"/>
<path d="M305.9 438.4V446" fill="none" stroke="#eeb5c0" stroke-width="1.1"/>
<path d="M305.9 446 L305.9 465.7 L308.2 465.7 L308.2 498.8 L321.9 498.8 L321.9 515.0 L323.6 515.0 L323.6 531.6 L336.6 531.6 L336.6 547.9" fill="none" stroke="#c8102e" stroke-width="1.2"/>
<circle cx="308.3" cy="465.7" r="2.2" fill="#c8102e"/>
<path d="M302.7 425.4 L305.3 425.4 L305.3 445.9 L313.6 445.9 L313.6 462.9 L337.7 462.9 L337.7 479.8 L361.8 479.8 L361.8 496.8 L392.5 496.8 L392.5 513.9 L407.8 513.9 L407.8 531.0 L480.8 531.0" fill="none" stroke="#1f5f99" stroke-width="1.2"/>
<circle cx="480.8" cy="531.0" r="2.1" fill="#1f5f99"/>
<text x="263.8" y="584.1" font-size="7.3" fill="#1a1a1a" stroke="#1a1a1a" stroke-width="0.12" textLength="33.0" lengthAdjust="spacing">No. at risk</text>
<text x="263.5" y="593.6" font-size="8.0" fill="#d2143c" stroke="#d2143c" stroke-width="0.12">noDC</text>
<text x="263.3" y="603.8" font-size="8.0" fill="#2a6aa6" stroke="#2a6aa6" stroke-width="0.12" textLength="12.13" lengthAdjust="spacingAndGlyphs">DC</text>
<text x="302.7" y="593.6" font-size="8.0" fill="#d2143c" text-anchor="middle" stroke="#d2143c" stroke-width="0.12">9</text>
<text x="302.7" y="603.8" font-size="8.0" fill="#2a6aa6" text-anchor="middle" stroke="#2a6aa6" stroke-width="0.12">6</text>
<text x="332.1" y="593.6" font-size="8.0" fill="#d2143c" text-anchor="middle" stroke="#d2143c" stroke-width="0.12">1</text>
<text x="332.1" y="603.8" font-size="8.0" fill="#2a6aa6" text-anchor="middle" stroke="#2a6aa6" stroke-width="0.12">5</text>
<text x="361.5" y="593.6" font-size="8.0" fill="#d2143c" text-anchor="middle" stroke="#d2143c" stroke-width="0.12">0</text>
<text x="361.5" y="603.8" font-size="8.0" fill="#2a6aa6" text-anchor="middle" stroke="#2a6aa6" stroke-width="0.12">4</text>
<text x="390.9" y="593.6" font-size="8.0" fill="#d2143c" text-anchor="middle" stroke="#d2143c" stroke-width="0.12">0</text>
<text x="390.9" y="603.8" font-size="8.0" fill="#2a6aa6" text-anchor="middle" stroke="#2a6aa6" stroke-width="0.12">3</text>
<text x="420.3" y="593.6" font-size="8.0" fill="#d2143c" text-anchor="middle" stroke="#d2143c" stroke-width="0.12">0</text>
<text x="420.3" y="603.8" font-size="8.0" fill="#2a6aa6" text-anchor="middle" stroke="#2a6aa6" stroke-width="0.12">1</text>
<text x="449.7" y="593.6" font-size="8.0" fill="#d2143c" text-anchor="middle" stroke="#d2143c" stroke-width="0.12">0</text>
<text x="449.7" y="603.8" font-size="8.0" fill="#2a6aa6" text-anchor="middle" stroke="#2a6aa6" stroke-width="0.12">1</text>
<text x="479.1" y="593.6" font-size="8.0" fill="#d2143c" text-anchor="middle" stroke="#d2143c" stroke-width="0.12">0</text>
<text x="479.1" y="603.8" font-size="8.0" fill="#2a6aa6" text-anchor="middle" stroke="#2a6aa6" stroke-width="0.12">1</text>
<text x="508.5" y="593.6" font-size="8.0" fill="#d2143c" text-anchor="middle" stroke="#d2143c" stroke-width="0.12">0</text>
<text x="508.5" y="603.8" font-size="8.0" fill="#2a6aa6" text-anchor="middle" stroke="#2a6aa6" stroke-width="0.12">0</text>
</svg>
</body></html>
